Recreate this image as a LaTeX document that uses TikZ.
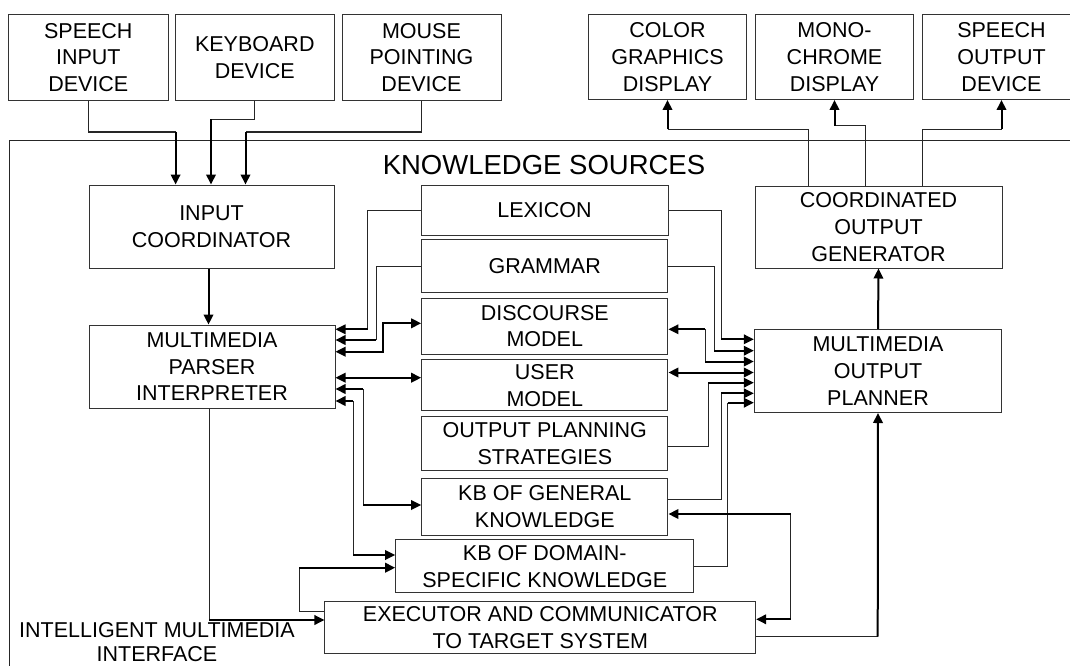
\documentclass[tikz,border=0pt]{standalone}
\usepackage{fontspec}
\setmainfont{Liberation Sans}
\usetikzlibrary{arrows.meta}
\begin{document}
\begin{tikzpicture}[x=1pt,y=-1pt,
  box/.style={draw=black!80,line width=1pt,align=center,inner sep=0pt,
    font=\fontsize{21.5}{26.7}\selectfont},
  ln/.style={draw=black!85,line width=1pt},
  arr/.style={draw=black,line width=2pt,-{Triangle[length=10pt,width=9.5pt]}},
  arrboth/.style={draw=black,line width=2pt,{Triangle[length=10pt,width=9.5pt]}-{Triangle[length=10pt,width=9.5pt]}},
  lbl/.style={inner sep=0pt,align=center,font=\fontsize{21.5}{24}\selectfont}]
\useasboundingbox (0,0) rectangle (1070,666);
\clip (0,0) rectangle (1070,666);
\fill[white] (0,0) rectangle (1070,666);

% outer frame (open to the right and bottom)
\draw[ln] (1080,140) -- (9,140) -- (9,680);
\node[lbl,anchor=base,font=\fontsize{27.5}{30}\selectfont] (ks) at (544,174) {KNOWLEDGE SOURCES};
\node[lbl,anchor=north] (imi) at (157,622.5) {INTELLIGENT MULTIMEDIA\\INTERFACE};

% devices
\node[box,minimum width=159.4pt,minimum height=85.5pt] (sid) at (88.3,57.3) {SPEECH\\INPUT\\DEVICE};
\node[box,minimum width=158.4pt,minimum height=85.5pt] (kbd) at (254.8,57.3) {KEYBOARD\\DEVICE};
\node[box,minimum width=159pt,minimum height=85.5pt] (mouse) at (421.5,57.3) {MOUSE\\POINTING\\DEVICE};
\node[box,minimum width=158.3pt,minimum height=85pt] (color) at (667.5,57) {COLOR\\GRAPHICS\\DISPLAY};
\node[box,minimum width=158.2pt,minimum height=85pt] (mono) at (834.5,57) {MONO-\\CHROME\\DISPLAY};
\node[box,minimum width=159pt,minimum height=85pt] (sod) at (1001.5,57) {SPEECH\\OUTPUT\\DEVICE};

% main boxes
\node[box,minimum width=245pt,minimum height=83pt] (inco) at (211.5,226.5) {INPUT\\COORDINATOR};
\node[box,minimum width=246pt,minimum height=83.3pt] (mpi) at (212,366.7) {MULTIMEDIA\\PARSER\\INTERPRETER};
\node[box,minimum width=247pt,minimum height=82pt] (cog) at (878.5,227) {COORDINATED\\OUTPUT\\GENERATOR};
\node[box,minimum width=247.4pt,minimum height=83.2pt] (mop) at (878,370.9) {MULTIMEDIA\\OUTPUT\\PLANNER};

% knowledge sources
\node[box,minimum width=247pt,minimum height=50pt] (lex) at (544.5,210) {LEXICON};
\node[box,minimum width=246.5pt,minimum height=52.7pt] (gram) at (544.7,266.3) {GRAMMAR};
\node[box,minimum width=246.3pt,minimum height=55.7pt] (disc) at (544.8,326.2) {DISCOURSE\\MODEL};
\node[box,minimum width=246.3pt,minimum height=50.7pt] (um) at (544.8,385.3) {USER\\MODEL};
\node[box,minimum width=246.3pt,minimum height=54.3pt] (ops) at (544.8,443.8) {OUTPUT PLANNING\\STRATEGIES};
\node[box,minimum width=246.3pt,minimum height=56.7pt] (kbg) at (544.8,506.7) {KB OF GENERAL\\KNOWLEDGE};
\node[box,minimum width=298.3pt,minimum height=52.7pt] (kbdom) at (544.8,566.3) {KB OF DOMAIN-\\SPECIFIC KNOWLEDGE};
\node[box,minimum width=430.7pt,minimum height=52.3pt] (exe) at (540.3,627.8) {EXECUTOR AND COMMUNICATOR\\TO TARGET SYSTEM};

% inputs
\draw[ln] (sid.south) |- (175.6,132);
\draw[arr] (175.6,132) -- (175.6,0 |- inco.north);
\draw[ln] (kbd.south) |- (211,119.5);
\draw[arr] (211,119.5) -- (211,0 |- inco.north);
\draw[ln] (mouse.south) |- (245.5,132);
\draw[arr] (245.5,132) -- (245.5,0 |- inco.north);

% outputs
\draw[ln] (808.8,0 |- cog.north) |- (color.south |- 0,129.5);
\draw[arr] (color.south |- 0,129.5) -- (color.south);
\draw[ln] (865.6,0 |- cog.north) |- (mono.south |- 0,125.8);
\draw[arr] (mono.south |- 0,125.8) -- (mono.south);
\draw[ln] (922.4,0 |- cog.north) |- (sod.south |- 0,129.5);
\draw[arr] (sod.south |- 0,129.5) -- (sod.south);

\draw[arr] (208.5,0 |- inco.south) -- (208.5,0 |- mpi.north);
\draw[arr] (mop.north) -- (cog.south);

% left side to parser
\draw[ln] (lex.west) -| (367.7,329.3);
\draw[arr] (367.7,329.3) -- (mpi.east |- 0,329.3);
\draw[ln] (gram.west) -| (376,340);
\draw[arr] (376,340) -- (mpi.east |- 0,340);
\draw[arrboth] (mpi.east |- 0,351.7) -| (383.3,323.3) -- (disc.west |- 0,323.3);
\draw[arrboth] (mpi.east |- 0,377.7) -- (um.west |- 0,377.7);
\draw[ln] (363.3,389) -- (363.3,505);
\draw[arr] (363.3,389) -- (mpi.east |- 0,389);
\draw[arr] (363.3,505) -- (kbg.west |- 0,505);
\draw[ln] (353.3,401) -- (353.3,555);
\draw[arr] (353.3,401) -- (mpi.east |- 0,401);
\draw[arr] (353.3,555) -- (kbdom.west |- 0,555);
\draw[ln] (exe.west |- 0,611.7) -| (299,567.7);
\draw[arr] (299,567.7) -- (kbdom.west |- 0,567.7);
\draw[ln] (209,0 |- mpi.south) -- (209,620);
\draw[arr] (209,620) -- (exe.west |- 0,620);

% right side to planner
\draw[ln] (lex.east) -| (721,339.3);
\draw[arr] (721,339.3) -- (mop.west |- 0,339.3);
\draw[ln] (gram.east) -| (714,350.7);
\draw[arr] (714,350.7) -- (mop.west |- 0,350.7);
\draw[ln] (705,329.3) -- (705,361.5);
\draw[arr] (705,329.3) -- (disc.east |- 0,329.3);
\draw[arr] (705,361.5) -- (mop.west |- 0,361.5);
\draw[arrboth] (um.east |- 0,372.5) -- (mop.west |- 0,372.5);
\draw[ln] (ops.east |- 0,446.7) -| (708.3,382.7);
\draw[arr] (708.3,382.7) -- (mop.west |- 0,382.7);
\draw[ln] (kbg.east |- 0,499) -| (721,393.3);
\draw[arr] (721,393.3) -- (mop.west |- 0,393.3);
\draw[ln] (kbdom.east) -| (727.5,402.7);
\draw[arr] (727.5,402.7) -- (mop.west |- 0,402.7);
\draw[ln] (790.7,514) -- (790.7,619.3);
\draw[arr] (790.7,514) -- (kbg.east |- 0,514);
\draw[arr] (790.7,619.3) -- (exe.east |- 0,619.3);
\draw[ln] (exe.east |- 0,636.7) -- (877.7,636.7);
\draw[arr] (877.7,636.7) -- (mop.south);
\end{tikzpicture}
\end{document}
